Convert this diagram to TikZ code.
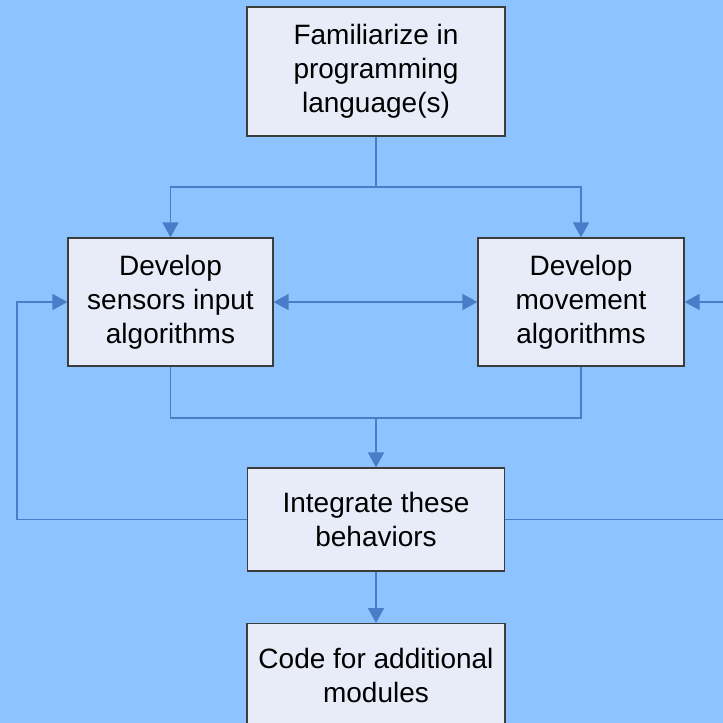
\documentclass[tikz,border=0pt]{standalone}
\usepackage{fontspec}
\setmainfont{Liberation Sans}
\usetikzlibrary{arrows.meta}
\definecolor{bgblue}{RGB}{141,195,255}
\definecolor{boxfill}{RGB}{231,236,248}
\definecolor{boxline}{RGB}{60,60,60}
\definecolor{linkblue}{RGB}{74,125,200}
\tikzset{
  stepbox/.style={draw=boxline, line width=1.2pt, fill=boxfill, align=center,
    inner sep=0pt, font=\fontsize{28}{34}\selectfont},
  link/.style={draw=linkblue, line width=1.5pt},
  tip/.style={-{Triangle[length=15pt,width=16pt]}},
}
\begin{document}
\begin{tikzpicture}[x=1pt,y=-1pt]
\useasboundingbox (0,0) rectangle (723,723);
\clip (0,0) rectangle (723,723);
\fill[bgblue] (0,0) rectangle (723,723);

% boxes
\node[stepbox, minimum width=258pt, minimum height=129pt] (fam) at (376,71.5)
  {Familiarize in\\programming\\language(s)};
\node[stepbox, minimum width=205pt, minimum height=128pt] (sens) at (170.5,302)
  {Develop\\sensors input\\algorithms};
\node[stepbox, minimum width=206pt, minimum height=128pt] (move) at (581,302)
  {Develop\\movement\\algorithms};
\node[stepbox, minimum width=257pt, minimum height=103pt] (integ) at (376,519.5)
  {Integrate these\\behaviors};
\node[stepbox, minimum width=258pt, minimum height=104pt, anchor=north] (code) at (376,623)
  {Code for additional\\modules};

% routing points
\coordinate (split) at (376,187);
\coordinate (merge) at (376,418);
\coordinate (loopL) at (17,519.5);
\coordinate (loopR) at (735,519.5);

% connectors
\draw[link] (fam.south) -- (split);
\draw[link, tip] (split) -| (sens.north);
\draw[link, tip] (split) -| (move.north);
\draw[link, {Triangle[length=15pt,width=16pt]}-{Triangle[length=15pt,width=16pt]}] (sens.east) -- (move.west);
\draw[link] (sens.south) |- (merge) -| (move.south);
\draw[link, tip] (merge) -- (integ.north);
\draw[link, tip] (integ.west) -- (loopL) |- (sens.west);
\draw[link, tip] (integ.east) -- (loopR) |- (move.east);
\draw[link, tip] (integ.south) -- (code.north);
\end{tikzpicture}
\end{document}
